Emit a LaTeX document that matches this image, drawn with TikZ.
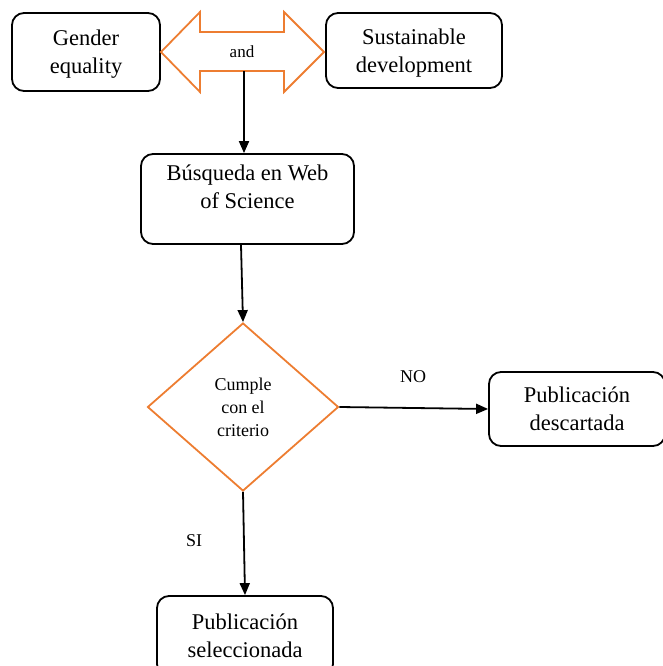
\documentclass[tikz,border=0pt]{standalone}
\usepackage{fontspec}
\setmainfont{Liberation Serif}
\usetikzlibrary{shapes.geometric,arrows.meta}
\definecolor{orng}{HTML}{ED7D31}
\tikzset{
  box/.style={draw=black, line width=1.8pt, rounded corners=12pt, align=center,
    font=\fontsize{22.5}{28}\selectfont, inner sep=0pt, text depth=0pt},
  conn/.style={draw=black, line width=1.8pt, -{Triangle[length=12pt,width=10pt]}},
  small/.style={font=\fontsize{18}{23}\selectfont, align=center, inner sep=0pt},
}
\begin{document}
\begin{tikzpicture}[x=1pt,y=-1pt]
\useasboundingbox (0,0) rectangle (662,666);
% boxes
\node[box, minimum width=148pt, minimum height=78pt] (gender) at (86,52) {Gender\\equality};
\node[box, minimum width=176pt, minimum height=75pt] (sust) at (414,50.5) {Sustainable\\development};
\node[box, minimum width=213pt, minimum height=90pt] (busq) at (247.5,199) {};
\node[font=\fontsize{22.5}{28}\selectfont, align=center, inner sep=0pt] (busqt) at (247.5,187) {Búsqueda en Web\\of Science};
\node[draw=orng, line width=1.8pt, diamond, aspect=1.137, inner sep=0pt,
  minimum width=191pt, minimum height=168pt, small] (dia) at (243,407) {Cumple\\con el\\criterio};
\node[box, minimum width=176pt, minimum height=74pt] (desc) at (577,409) {Publicación\\descartada};
\node[box, minimum width=176pt, minimum height=80pt] (sel) at (245,636) {Publicación\\seleccionada};
% double arrow
\draw[orng, line width=1.8pt, line join=miter]
  (161,52) -- (200,12) -- (200,32) -- (284,32) -- (284,12) -- (324,52)
  -- (284,92) -- (284,71) -- (200,71) -- (200,92) -- cycle;
\node[font=\fontsize{17}{20}\selectfont, inner sep=0pt] (andn) at (242,52) {and};
\coordinate (shaftbot) at (244,71);
% connectors
\draw[conn] (shaftbot) -- (busq.north -| shaftbot);
\draw[conn] ([xshift=-6.5pt]busq.south) -- (dia.north);
\draw[conn] (dia.east) -- (desc.west);
\draw[conn] (dia.south) -- (sel.north);
% labels
\node[small] (nolab) at (413,377) {NO};
\node[small] (silab) at (194,541) {SI};
\end{tikzpicture}
\end{document}
